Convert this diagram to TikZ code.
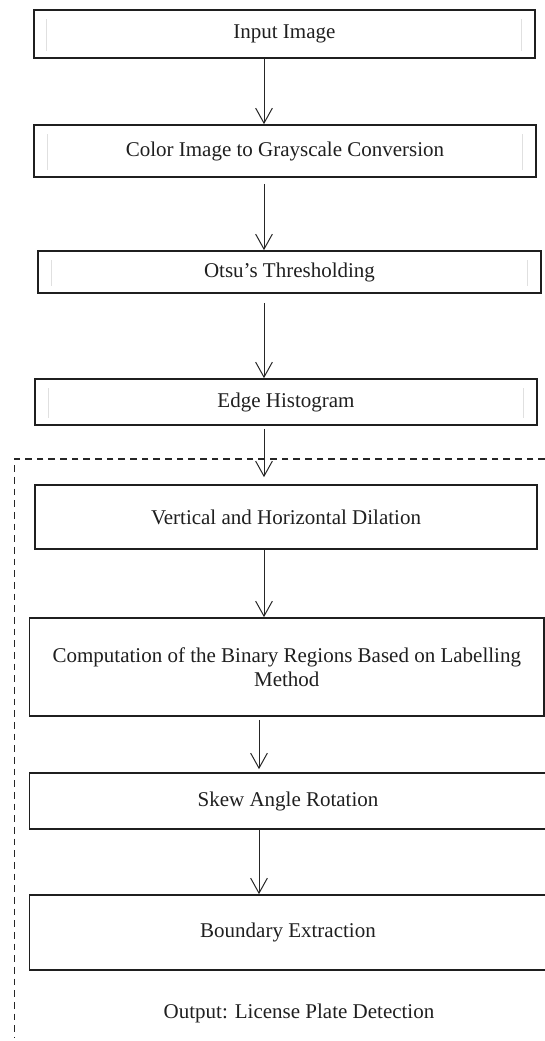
\documentclass[tikz,border=0pt]{standalone}
\usepackage{fontspec}
\setmainfont{Liberation Serif}
\usetikzlibrary{arrows.meta,calc}

\begin{document}
\begin{tikzpicture}[x=0.6pt,y=-0.6pt,every node/.style={font=\fontsize{12.6}{14.4}\selectfont,text=black!88},
  box/.style={draw=black!88,line width=1pt,inner sep=0pt,align=center},
  flow/.style={-{Straight Barb[length=9pt,width=10pt]},line width=0.6pt,black!85},
  ghost/.style={black!12,line width=0.5pt}]
\useasboundingbox (0,0) rectangle (545,1041); \clip (0,0) rectangle (545,1041);
\node[box,minimum width=300.8pt,minimum height=28.8pt] (in) at (284.4,34) {Input Image};
\node[box,minimum width=301.2pt,minimum height=31.2pt] (gray) at (285,151) {Color Image to Grayscale Conversion};
\node[box,minimum width=301.8pt,minimum height=25.2pt] (otsu) at (289.5,272) {Otsu’s Thresholding};
\node[box,minimum width=301.2pt,minimum height=27.6pt] (edge) at (286,402) {Edge Histogram};
\node[box,minimum width=301.2pt,minimum height=38.4pt] (dil) at (286,517) {Vertical and Horizontal Dilation};
\node[box,minimum width=308.7pt,minimum height=58.8pt] (lab) at (286.8,667) {Computation of the Binary Regions Based on Labelling\\Method};
\node[box,minimum width=310.2pt,minimum height=33.6pt] (skew) at (288,801) {Skew Angle Rotation};
\node[box,minimum width=310.2pt,minimum height=45pt] (bnd) at (288,932.5) {Boundary Extraction};
\node (out) at (299,1013) {Output: License Plate Detection};
\coordinate (upper) at (264,0); \coordinate (lower) at (259,0);
\foreach \n in {in,gray,otsu,edge} \draw[ghost] ($(\n.north west)+(14,10)$) -- ($(\n.south west)+(14,-8)$) ($(\n.north east)+(-14,10)$) -- ($(\n.south east)+(-14,-8)$);
\draw[flow] (in.south -| upper) -- (gray.north -| upper);
\draw[flow,shorten <=3.6pt] (gray.south -| upper) -- (otsu.north -| upper);
\draw[flow,shorten <=5.4pt] (otsu.south -| upper) -- (edge.north -| upper);
\draw[flow,shorten <=1.8pt,shorten >=4.2pt] (edge.south -| upper) -- (dil.north -| upper);
\draw[flow] (dil.south -| upper) -- (lab.north -| upper);
\draw[flow,shorten <=1.8pt,shorten >=1.8pt] (lab.south -| lower) -- (skew.north -| lower);
\draw[flow] (skew.south -| lower) -- (bnd.north -| lower);
\draw[black!85,line width=0.7pt,dash pattern=on 4pt off 3pt] (545,459) -- (14.6,459) -- (14.6,1037);
\end{tikzpicture}
\end{document}
